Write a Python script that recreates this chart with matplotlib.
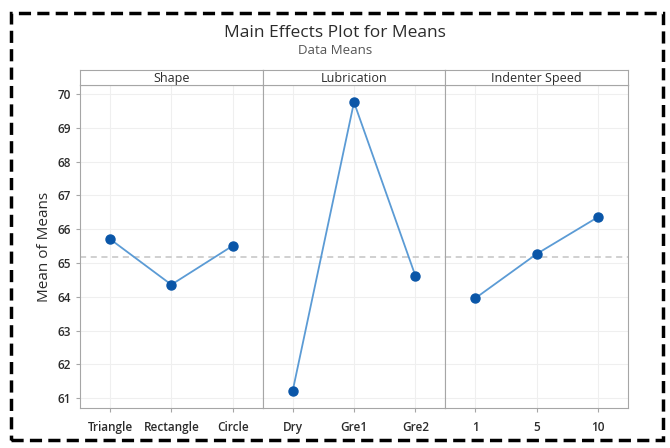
import matplotlib
matplotlib.use("Agg")
import matplotlib.pyplot as plt
from matplotlib.patches import Rectangle

plt.rcParams['font.family'] = ['Open Sans', 'DejaVu Sans']

# Data
factors = ['Shape', 'Lubrication', 'Indenter Speed']
levels = [['Triangle', 'Rectangle', 'Circle'],
          ['Dry', 'Gre1', 'Gre2'],
          ['1', '5', '10']]
shape_means = [65.71, 64.36, 65.51]
lubrication_means = [61.22, 69.76, 64.63]
speed_means = [63.96, 65.27, 66.36]
grand_mean = 65.19
yticks = [61, 62, 63, 64, 65, 66, 67, 68, 69, 70]

series = [shape_means, lubrication_means, speed_means]

W, H = 670, 448
fig = plt.figure(figsize=(W / 100, H / 100), dpi=100)

left, right = 80 / W, 628 / W
bottom, top = 1 - 408 / H, 1 - 85 / H
head_top = 1 - 70.5 / H
pw = (right - left) / 3

line_col = '#5b9bd5'
mark_col = '#0a56a8'
txt_col = '#2b2b2b'
spine_col = '#a6a6a6'

axes = []
for i in range(3):
    ax = fig.add_axes([left + i * pw, bottom, pw, top - bottom])
    axes.append(ax)
    x = list(range(len(levels[i])))
    ax.axhline(grand_mean, color='#c4c4c4', ls=(0, (4, 3)), lw=1.1, zorder=1)
    ax.plot(x, series[i], color=line_col, lw=1.3, zorder=2)
    ax.plot(x, series[i], 'o', color=mark_col, ms=6.5, zorder=3)
    ax.set_xlim(-0.49, 2.49)
    ax.set_ylim(60.71, 70.27)
    ax.set_xticks(x)
    ax.set_xticklabels(levels[i], fontsize=8.5, color=txt_col, fontweight='semibold')
    ax.set_yticks(yticks)
    ax.grid(True, color='#efefef', lw=0.8, zorder=0)
    ax.set_axisbelow(True)
    ax.tick_params(axis='x', length=3, color=spine_col, pad=6)
    ax.tick_params(axis='y', length=3, color=spine_col, labelsize=8.5, labelcolor=txt_col)
    for s in ax.spines.values():
        s.set_color(spine_col)
    if i > 0:
        ax.tick_params(axis='y', left=False, labelleft=False)
    else:
        for lab in ax.get_yticklabels():
            lab.set_fontweight('semibold')

    # header strip
    hx = fig.add_axes([left + i * pw, top, pw, head_top - top])
    hx.set_xticks([])
    hx.set_yticks([])
    for s in hx.spines.values():
        s.set_color(spine_col)
    hx.text(0.5, 0.45, factors[i], ha='center', va='center', fontsize=9,
            color=txt_col, fontweight='medium')

axes[0].set_ylabel('Mean of Means', fontsize=11, color=txt_col, labelpad=4,
                   fontweight='medium')

fig.text(0.5, 1 - 33 / H, 'Main Effects Plot for Means', ha='center', va='center',
         fontsize=12.5, color=txt_col, fontweight='medium')
fig.text(0.5, 1 - 51 / H, 'Data Means', ha='center', va='center', fontsize=9.5, color='#555555')

# dashed frame around the figure
fig.patches.append(Rectangle((11 / W, 1 - 440 / H), (663 - 11) / W, (440 - 13) / H,
                             transform=fig.transFigure, fill=False, ec='black',
                             lw=2.5, ls=(0, (3.5, 1.8))))

fig.savefig('out.png', dpi=100)
